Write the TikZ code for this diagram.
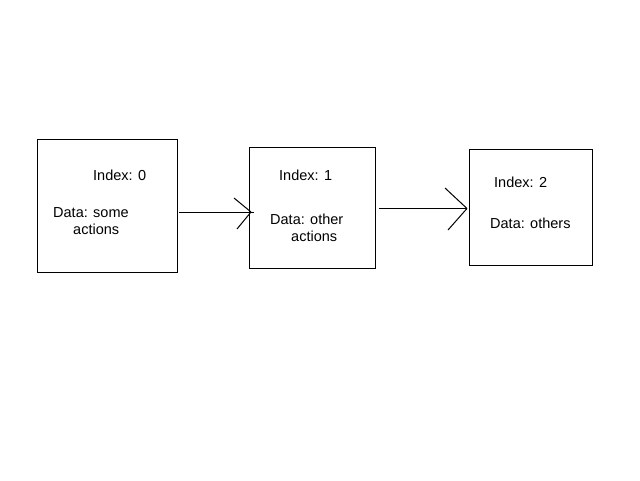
\documentclass[tikz,border=0pt]{standalone}
\usepackage{fontspec}
\setmainfont{Liberation Sans}
\usepackage{tikz}
\tikzstyle{block} = [draw, rectangle, line width=1pt, inner sep=0pt]
\tikzstyle{label} = [anchor=base west, inner sep=0pt, font=\fontsize{14.5}{17}\selectfont]
\tikzstyle{link} = [line width=1pt]

\begin{document}
\begin{tikzpicture}[x=1pt, y=-1pt]
        \fill[white] (0,0) rectangle (640,480);
        \useasboundingbox (0,0) rectangle (640,480);
        % Node positions
        \node[block, minimum width=140pt, minimum height=133pt] (B0) at (107,205.5) {};
        \node[block, minimum width=126pt, minimum height=121pt] (B1) at (312,207.5) {};
        \node[block, minimum width=123pt, minimum height=116pt] (B2) at (530.5,207) {};

        % Texts
        \node[label] (I0) at (93,180) {Index: 0};
        \node[label] (D0) at (53,217) {Data: some};
        \node[label] (A0) at (73,234) {actions};
        \node[label] (I1) at (279,180) {Index: 1};
        \node[label] (D1) at (270,224) {Data: other};
        \node[label] (A1) at (291,241) {actions};
        \node[label] (I2) at (494,187) {Index: 2};
        \node[label] (D2) at (490,228) {Data: others};

        % Arrow ends
        \coordinate (S0) at (179,212);
        \coordinate (E0) at (254,212);
        \coordinate (T0) at (251,212);
        \coordinate (U0) at (234,198);
        \coordinate (L0) at (237,229);
        \coordinate (S1) at (379,208.5);
        \coordinate (E1) at (467,208.5);
        \coordinate (T1) at (467,208.5);
        \coordinate (U1) at (445,188);
        \coordinate (L1) at (448,230);

        \draw[link] (S0) -- (E0);
        \draw[link] (U0) -- (T0);
        \draw[link] (L0) -- (T0);
        \draw[link] (S1) -- (E1);
        \draw[link] (U1) -- (T1);
        \draw[link] (L1) -- (T1);
      \end{tikzpicture}
\end{document}
